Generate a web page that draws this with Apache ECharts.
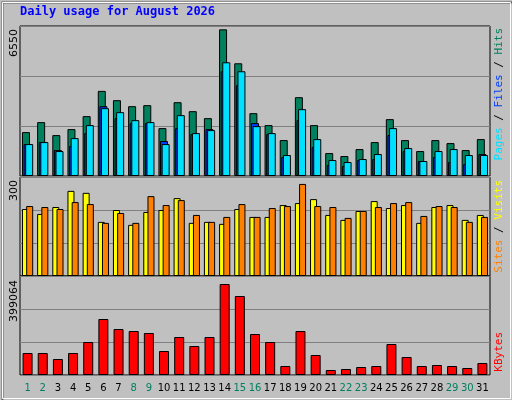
<!DOCTYPE html>
<html><head><meta charset="utf-8">
<script src="https://cdn.jsdelivr.net/npm/echarts@6/dist/echarts.min.js"></script>
<style>html,body{margin:0;padding:0;background:#c0c0c0}#c{width:512px;height:400px}</style>
</head><body><div id="c"></div>
<script>
const days = Array.from({length:31},(_,i)=>String(i+1));
const weekend = [1,2,8,9,15,16,22,23,29,30];
const hits  = [1917,2352,1786,2047,2614,3717,3311,3049,3093,2091,3223,2831,2526,6403,4922,2744,2222,1568,3441,2222,1002,871,1176,1481,2483,1568,1089,1568,1437,1133,1612];
const files = [1394,1481,1133,1307,1873,3049,2526,2309,2309,1525,2091,1830,2047,4574,3964,2309,1830,828,2439,1263,479,436,697,741,1786,1089,653,828,610,523,958];
const pages = [1394,1481,1089,1655,2222,2962,2788,2439,2352,1394,2657,1873,2004,4966,4574,2178,1873,915,2919,1612,697,610,741,958,2091,1220,653,1089,1176,915,915];
const visits = [203,188,209,258,252,164,200,155,194,200,236,161,164,158,203,179,179,215,221,233,185,170,197,227,206,215,161,209,215,170,185];
const sites  = [212,209,203,224,218,161,191,161,242,215,230,185,164,179,218,179,206,212,279,212,209,176,197,209,221,224,182,212,209,164,179];
const kbytes = [88678,88678,64493,88678,133016,225725,185417,177355,169294,96739,153170,116893,153170,366814,318433,165263,133016,36277,177355,80616,20154,24185,32246,36277,124955,72554,36277,40308,36277,28216,48370];
const maxHits = 6550, maxVisits = 300, maxKB = 399064;

const L=20, W=470;
const grids=[{left:L,top:26,width:W,height:150},{left:L,top:177,width:W,height:99},{left:L,top:276,width:W,height:99}];
const mkX=(i,show)=>({type:'category',gridIndex:i,data:days,axisLine:{show:false},axisTick:{show:false},
  axisLabel:show?{show:true,interval:0,margin:8,fontFamily:'DejaVu Sans',fontSize:10,
    formatter:(v)=>weekend.includes(+v)?'{w|'+v+'}':'{d|'+v+'}',
    rich:{w:{color:'#008060',fontFamily:'DejaVu Sans',fontSize:10},d:{color:'#000',fontFamily:'DejaVu Sans',fontSize:10}}}:{show:false}});
const mkY=(i,max)=>({type:'value',gridIndex:i,min:0,max:max,interval:max/3,axisLabel:{show:false},
  axisLine:{show:false},axisTick:{show:false},splitLine:{lineStyle:{color:'#808080',width:1}}});
const bs={borderColor:'#000',borderWidth:1};
const opt={
  backgroundColor:'#c0c0c0',animation:false,
  grid:grids.map(g=>Object.assign({show:true,backgroundColor:'#c0c0c0',borderColor:'#000',borderWidth:1},g)),
  xAxis:[mkX(0,false),mkX(1,false),mkX(2,true)],
  yAxis:[mkY(0,maxHits),mkY(1,maxVisits),mkY(2,maxKB)],
  series:[
    {type:'bar',xAxisIndex:0,yAxisIndex:0,data:hits,barWidth:8,barGap:'-80%',itemStyle:Object.assign({color:'#00805c'},bs)},
    {type:'bar',xAxisIndex:0,yAxisIndex:0,data:files,barWidth:8,barGap:'-80%',itemStyle:Object.assign({color:'#0040ff'},bs)},
    {type:'bar',xAxisIndex:0,yAxisIndex:0,data:pages,barWidth:8,barGap:'-80%',itemStyle:Object.assign({color:'#00e0ff'},bs)},
    {type:'bar',xAxisIndex:1,yAxisIndex:1,data:visits,barWidth:7,barGap:'-40%',itemStyle:Object.assign({color:'#ffff00'},bs)},
    {type:'bar',xAxisIndex:1,yAxisIndex:1,data:sites,barWidth:7,barGap:'-40%',itemStyle:Object.assign({color:'#ff8000'},bs)},
    {type:'bar',xAxisIndex:2,yAxisIndex:2,data:kbytes,barWidth:10,itemStyle:Object.assign({color:'#ff0000'},bs)}
  ],
  graphic:[
    {type:'rect',left:0,top:0,shape:{width:511,height:399},style:{fill:'none',stroke:'#606060',lineWidth:2}},
    {type:'rect',left:0,top:0,shape:{width:508,height:396},style:{fill:'none',stroke:'#ffffff',lineWidth:1}},
    {type:'text',left:20,top:6,style:{text:'Daily usage for August 2026',fill:'#0000ff',font:'bold 12px "DejaVu Sans Mono"'}},
    {type:'text',x:9,y:29,rotation:Math.PI/2,style:{text:String(maxHits),fill:'#000',font:'11px "DejaVu Sans"',align:'right',verticalAlign:'top'}},
    {type:'text',x:9,y:180,rotation:Math.PI/2,style:{text:String(maxVisits),fill:'#000',font:'11px "DejaVu Sans"',align:'right',verticalAlign:'top'}},
    {type:'text',x:9,y:280,rotation:Math.PI/2,style:{text:String(maxKB),fill:'#000',font:'11px "DejaVu Sans"',align:'right',verticalAlign:'top'}},
    {type:'text',x:494,y:28,rotation:Math.PI/2,style:{text:'{p|Pages}{k| / }{f|Files}{k| / }{h|Hits}',align:'right',verticalAlign:'top',
      rich:{p:{fill:'#00e0ff',font:'11px "DejaVu Sans Mono"'},f:{fill:'#0040ff',font:'11px "DejaVu Sans Mono"'},h:{fill:'#00805c',font:'11px "DejaVu Sans Mono"'},k:{fill:'#000',font:'11px "DejaVu Sans Mono"'}}}},
    {type:'text',x:494,y:180,rotation:Math.PI/2,style:{text:'{s|Sites}{k| / }{v|Visits}',align:'right',verticalAlign:'top',
      rich:{s:{fill:'#ff8000',font:'11px "DejaVu Sans Mono"'},v:{fill:'#ffff00',font:'11px "DejaVu Sans Mono"'},k:{fill:'#000',font:'11px "DejaVu Sans Mono"'}}}},
    {type:'text',x:494,y:332,rotation:Math.PI/2,style:{text:'KBytes',fill:'#ff0000',font:'11px "DejaVu Sans Mono"',align:'right',verticalAlign:'top'}}
  ]
};
echarts.init(document.getElementById('c'),null,{renderer:'canvas'}).setOption(opt);
</script></body></html>
